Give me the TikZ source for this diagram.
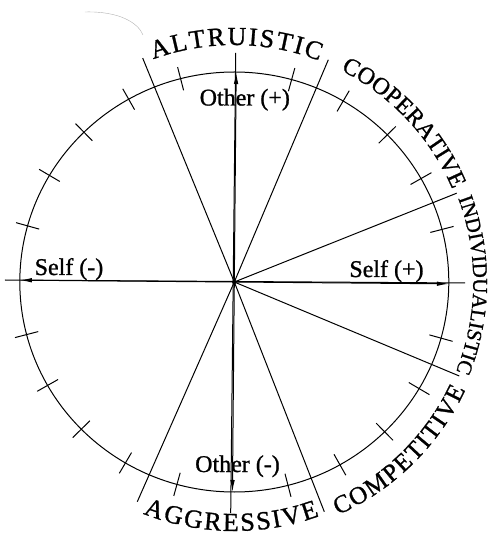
\documentclass[tikz,border=0pt]{standalone}
\usepackage{fontspec}
\setmainfont{Liberation Serif}[UprightFeatures={FakeBold=1}]
\usetikzlibrary{decorations.text,arrows.meta}
\newcommand\lblA{\fontsize{26pt}{26pt}\selectfont}
\newcommand\lblB{\fontsize{24pt}{24pt}\selectfont}
\newcommand\lblC{\fontsize{21pt}{21pt}\selectfont}
\newcommand\lblD{\fontsize{25pt}{25pt}\selectfont}
\newcommand\lblE{\fontsize{26pt}{26pt}\selectfont}
\begin{document}
\begin{tikzpicture}[x=1pt,y=1pt,line width=1pt,
  axisarrow/.style={-{Latex[length=12pt,width=4.5pt]}},
  tickmark/.style={line width=1pt},
  inlabel/.style={font=\fontsize{24}{24}\selectfont,inner sep=0pt,anchor=base},
  arclabel/.style={decorate,decoration={text along path,text align=fit to path,text={#1}}}
  ]
\useasboundingbox (-234.3,-253) rectangle (254.7,282);
\coordinate (C) at (0,0);
% circle
\draw (C) ellipse [x radius=214.5pt, y radius=210pt];
% ticks every 15 degrees
\foreach \a in {15,30,45,60,75,105,120,135,150,165,195,210,225,240,255,285,300,315,330,345}{
  \draw[tickmark] ({\a-0.5}:202.5pt and 198pt) -- ({\a-0.5}:226.5pt and 222pt);
}
% axes
\coordinate (L) at (-229.3,2);
\coordinate (R) at (230.7,-1);
\coordinate (T) at (1.4,229);
\coordinate (B) at (-3.6,-231);
\coordinate (Lt) at (179.5:214.5pt and 210pt);
\coordinate (Rt) at (-0.5:214.5pt and 210pt);
\coordinate (Tt) at (89.5:214.5pt and 210pt);
\coordinate (Bt) at (269.5:214.5pt and 210pt);
\draw (L) -- (R);
\draw (T) -- (B);
\draw[axisarrow] (C) -- (Lt);
\draw[axisarrow] (C) -- (Rt);
\draw[axisarrow] (C) -- (Tt);
\draw[axisarrow] (C) -- (Bt);
% sector lines
\coordinate (A1) at (-91.6,223.9);
\coordinate (A2) at (90,-229.7);
\coordinate (B1) at (94,222.2);
\coordinate (B2) at (-97,-219.7);
\coordinate (R1) at (222.4,88.8);
\coordinate (R2) at (225,-94);
\draw (A1) -- (C) -- (A2);
\draw (B1) -- (C) -- (B2);
\draw (C) -- (R1);
\draw (C) -- (R2);
\fill (C) circle (2.2pt);
% inner labels
\node[inlabel] (op) at (10.5,176.5) {Other (+)};
\node[inlabel] (om) at (3.2,-190) {Other (-)};
\node[inlabel] (sm) at (-165.3,7) {Self (-)};
\node[inlabel] (sp) at (152.2,5) {Self (+)};
% curved labels
\path[arclabel={|\lblA|ALTRUISTIC}] (110:237pt) arc[start angle=110,end angle=69,radius=237pt];
\path[arclabel={|\lblB|COOPERATIVE}] (63.3:237pt) arc[start angle=63.3,end angle=23.6,radius=237pt];
\path[arclabel={|\lblC|INDIVIDUALISTIC}] (20.5:239pt) arc[start angle=20.5,end angle=-21.5,radius=239pt];
\path[arclabel={|\lblD|COMPETITIVE}] (-66:255pt) arc[start angle=-66,end angle=-25,radius=255pt];
\path[arclabel={|\lblE|AGGRESSIVE}] (248.5:249pt) arc[start angle=248.5,end angle=290,radius=249pt];
% stray pencil stroke
\draw[gray!60,line width=0.4pt] (-149.3,270) .. controls (-115,271) and (-96,259) .. (-91.3,247);
\end{tikzpicture}
\end{document}
